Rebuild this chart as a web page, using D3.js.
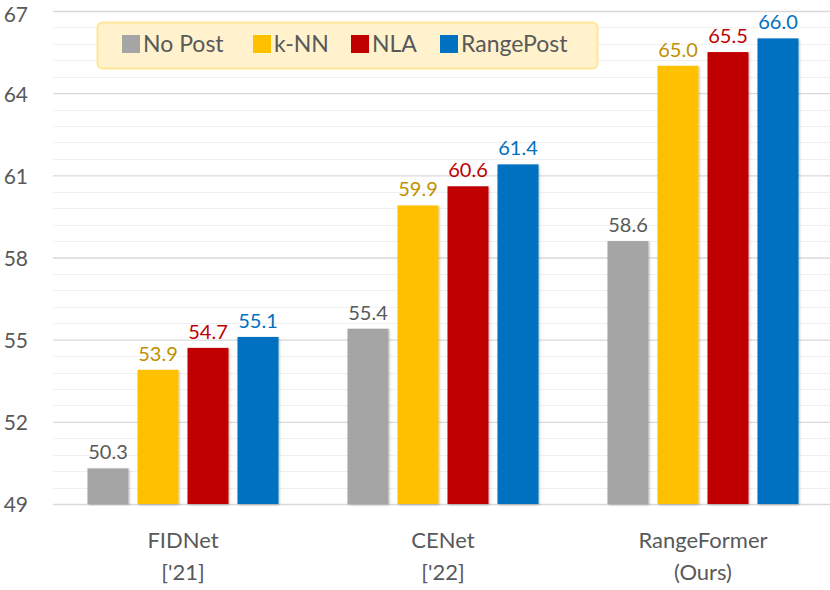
<!DOCTYPE html>
<html>
<head>
<meta charset="utf-8">
<script src="https://cdn.jsdelivr.net/npm/d3@7"></script>
<style>
  body { margin: 0; background: #fff; }
  text { font-family: Lato, "Open Sans", sans-serif; }
</style>
</head>
<body>
<div id="chart"></div>
<script>
  var groups = ['FIDNet', 'CENet', 'RangeFormer'];
  var groupSub = ["['21]", "['22]", '(Ours)'];
  var series = ['No Post', 'k-NN', 'NLA', 'RangePost'];
  var noPost = [50.3, 55.4, 58.6];
  var knn = [53.9, 59.9, 65.0];
  var nla = [54.7, 60.6, 65.5];
  var rangePost = [55.1, 61.4, 66.0];
  var yTicks = [49, 52, 55, 58, 61, 64, 67];

(function () {
  'use strict';
  var values = [noPost, knn, nla, rangePost];
  var barColor = ['#a5a5a5', '#ffc000', '#c00000', '#0070c0'];
  var labelColor = ['#595959', '#bf9000', '#c00000', '#0070c0'];

  var width = 830, height = 590;
  var left = 53, right = 833, plotTop = 11, bottom = 504;

  var svg = d3.select('#chart').append('svg')
      .attr('width', width)
      .attr('height', height);

  var defs = svg.append('defs');
  var f = defs.append('filter').attr('id', 'shadow')
      .attr('x', '-20%').attr('y', '-5%').attr('width', '140%').attr('height', '110%');
  f.append('feDropShadow').attr('dx', 1).attr('dy', 1).attr('stdDeviation', 1.2)
      .attr('flood-color', '#000').attr('flood-opacity', 0.25);

  var y = d3.scaleLinear().domain([49, 67]).range([bottom, plotTop]);
  var x0 = d3.scaleBand().domain(groups).range([left, right]).paddingInner(0).paddingOuter(0);
  var x1 = d3.scaleBand().domain(series).range([34.5, x0.bandwidth() - 34.5]).paddingInner(0.18);

  // minor gridlines every 0.6
  var minor = d3.range(0, 31).map(function (k) { return 49 + k * 0.6; })
      .filter(function (v, k) { return k % 5 !== 0; });
  svg.append('g').selectAll('line').data(minor).enter().append('line')
      .attr('x1', left).attr('x2', right)
      .attr('y1', function (d) { return Math.round(y(d)) + 0.5; })
      .attr('y2', function (d) { return Math.round(y(d)) + 0.5; })
      .attr('stroke', '#f0f0f0').attr('stroke-width', 1);

  // major gridlines + axis
  var yAxis = d3.axisLeft(y).tickValues(yTicks).tickSize(-(right - left)).tickPadding(25);
  var ga = svg.append('g').attr('transform', 'translate(' + left + ',0)').call(yAxis);
  ga.select('.domain').remove();
  ga.selectAll('.tick line').attr('stroke', '#d9d9d9').attr('stroke-width', 1.3);
  ga.selectAll('.tick text')
      .attr('fill', '#595959')
      .style('font-size', '21px')
      .attr('dy', function (d) { return d === 67 ? '0.5em' : '0.38em'; });

  // bars
  var g = svg.append('g').selectAll('g').data(groups).enter().append('g')
      .attr('transform', function (d) { return 'translate(' + x0(d) + ',0)'; });

  function rows(d, i) {
    return series.map(function (s, j) { return { s: s, j: j, v: values[j][i] }; });
  }

  g.selectAll('rect').data(rows).enter().append('rect')
      .attr('x', function (d) { return x1(d.s); })
      .attr('width', x1.bandwidth())
      .attr('y', function (d) { return y(d.v); })
      .attr('height', function (d) { return bottom - y(d.v); })
      .attr('fill', function (d) { return barColor[d.j]; })
      .attr('filter', 'url(#shadow)');

  g.selectAll('text.val').data(rows).enter().append('text')
      .attr('class', 'val')
      .attr('x', function (d) { return x1(d.s) + x1.bandwidth() / 2; })
      .attr('y', function (d) { return y(d.v) - 9; })
      .attr('text-anchor', 'middle')
      .attr('fill', function (d) { return labelColor[d.j]; })
      .style('font-size', '20px')
      .text(function (d) { return d3.format('.1f')(d.v); });

  // x labels
  g.append('text')
      .attr('x', x0.bandwidth() / 2).attr('y', 548)
      .attr('text-anchor', 'middle').attr('fill', '#595959')
      .style('font-size', '22px')
      .text(function (d) { return d; });
  g.append('text')
      .attr('x', x0.bandwidth() / 2).attr('y', 580)
      .attr('text-anchor', 'middle').attr('fill', '#595959')
      .style('font-size', '22px')
      .text(function (d, i) { return groupSub[i]; });

  // legend
  var lg = svg.append('g');
  lg.append('rect')
      .attr('x', 97.5).attr('y', 22.5).attr('width', 500).attr('height', 46)
      .attr('rx', 5)
      .attr('fill', '#fff2cc').attr('stroke', '#ffe699').attr('stroke-width', 2);
  var legX = [122, 253, 351, 440];
  var items = lg.selectAll('g').data(series).enter().append('g')
      .attr('transform', function (d, i) { return 'translate(' + legX[i] + ',35)'; });
  items.append('rect')
      .attr('width', 18).attr('height', 18)
      .attr('fill', function (d, i) { return barColor[i]; });
  items.append('text')
      .attr('x', 21).attr('y', 17)
      .attr('fill', '#595959')
      .style('font-size', '23px')
      .text(function (d) { return d; });
})();
</script>
</body>
</html>
